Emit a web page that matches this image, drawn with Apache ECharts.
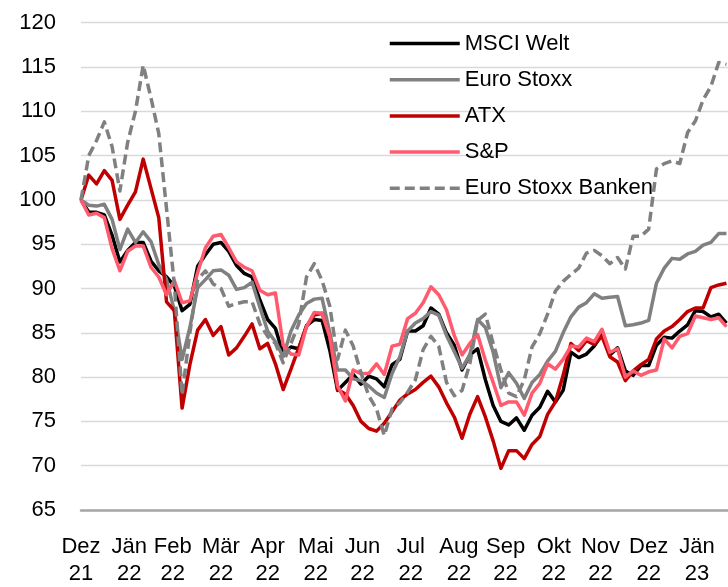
<!DOCTYPE html>
<html>
<head>
<meta charset="utf-8">
<script src="https://cdn.jsdelivr.net/npm/echarts@6/dist/echarts.min.js"></script>
<style>
  html, body { margin: 0; padding: 0; background: #fff; }
  #chart { width: 728px; height: 587px; }
</style>
</head>
<body>
<div id="chart"></div>
<script>
// Observation dates (every five days)
const dates = [
  '2021-12-31','2022-01-05','2022-01-10','2022-01-15','2022-01-20','2022-01-25','2022-01-30',
  '2022-02-04','2022-02-09','2022-02-14','2022-02-19','2022-02-24','2022-03-01','2022-03-06',
  '2022-03-11','2022-03-16','2022-03-21','2022-03-26','2022-03-31','2022-04-05','2022-04-10',
  '2022-04-15','2022-04-20','2022-04-25','2022-04-30','2022-05-05','2022-05-10','2022-05-15',
  '2022-05-20','2022-05-25','2022-05-30','2022-06-04','2022-06-09','2022-06-14','2022-06-19',
  '2022-06-24','2022-06-29','2022-07-04','2022-07-09','2022-07-14','2022-07-19','2022-07-24',
  '2022-07-29','2022-08-03','2022-08-08','2022-08-13','2022-08-18','2022-08-23','2022-08-28',
  '2022-09-02','2022-09-07','2022-09-12','2022-09-17','2022-09-22','2022-09-27','2022-10-02',
  '2022-10-07','2022-10-12','2022-10-17','2022-10-22','2022-10-27','2022-11-01','2022-11-06',
  '2022-11-11','2022-11-16','2022-11-21','2022-11-26','2022-12-01','2022-12-06','2022-12-11',
  '2022-12-16','2022-12-21','2022-12-26','2022-12-31','2023-01-05','2023-01-10','2023-01-15',
  '2023-01-20','2023-01-25','2023-01-30','2023-02-04','2023-02-09','2023-02-14','2023-02-19'
];

// Index levels (31.12.2021 = 100)
const msciWelt = [
  100, 98.6, 98.6, 98.3, 96, 93, 94.3, 95.2, 95.2, 93.1, 92, 91.3, 90.3, 87.5,
  88.2, 92.5, 93.8, 95, 95.2, 94.2, 92.6, 91.7, 91.3, 88.7, 86.5, 85.5, 82.6, 83.4,
  83.2, 85.8, 86.5, 86.4, 83, 78.5, 79.4, 80.3, 79.2, 80.1, 79.8, 78.9, 81.4, 82,
  85.2, 85.2, 85.8, 87.8, 87.1, 85, 83.6, 80.8, 82.5, 83.2, 79.7, 76.8, 75, 74.6,
  75.4, 74, 75.7, 76.6, 78.4, 77.2, 78.5, 82.8, 82.2, 82.6, 83.5, 84.8, 82.5, 83.3,
  80.7, 80.2, 81.3, 81.3, 83.6, 84.5, 84.4, 85.2, 85.9, 87.5, 87.4, 86.8, 87.1, 86.1
];
const euroStoxx = [
  100, 99.4, 99.3, 99.5, 97.8, 94.4, 96.7, 95.2, 96.4, 95.3, 92.7, 91, 87.5, 82,
  85.6, 90.1, 91, 92, 92.1, 91.5, 89.9, 90.1, 90.7, 87.9, 85.2, 84, 82.3, 85.2,
  87, 88.3, 88.8, 88.9, 85, 80.8, 80.8, 79.8, 79.6, 79, 78.2, 77.7, 80.4, 82.3,
  85.2, 86.1, 86.6, 87.4, 87, 84.7, 82.9, 81, 82.5, 86.5, 85.6, 82.8, 78.8, 80.5,
  79.3, 77.6, 79.4, 80.3, 81.8, 82.9, 85, 86.8, 87.9, 88.4, 89.4, 88.9, 89, 89.1,
  85.8, 85.9, 86.1, 86.4, 90.6, 92.3, 93.4, 93.3, 93.9, 94.2, 94.9, 95.2, 96.2, 96.2
];
const atx = [
  100, 102.8, 101.8, 103.3, 102.2, 97.8, 99.4, 100.9, 104.6, 101.3, 98, 88.5, 87.5, 76.5,
  81.4, 85.3, 86.5, 84.7, 85.7, 82.5, 83.3, 84.6, 86, 83.2, 83.8, 81.5, 78.6, 80.9,
  83.3, 85.7, 87, 87.2, 84.5, 78.6, 78.1, 76.8, 75, 74.2, 73.9, 74.8, 76.1, 77.4,
  78.1, 78.6, 79.4, 80.1, 78.9, 77.1, 75.5, 73.1, 75.8, 77.8, 75.5, 72.8, 69.7, 71.7,
  71.7, 70.8, 72.4, 73.3, 75.8, 77.2, 80.2, 83.8, 83, 84.1, 83.7, 84.6, 82.3, 81.7,
  79.6, 80.7, 81.4, 82, 84.3, 85.2, 85.7, 86.5, 87.4, 87.8, 87.8, 90.1, 90.4, 90.6
];
const sp = [
  100, 98.3, 98.5, 98, 94.5, 92, 94.2, 94.8, 94.8, 92.4, 91.3, 89.3, 90.9, 88.4,
  88.6, 91.8, 94.6, 95.9, 96.1, 94.6, 93, 92.4, 92, 89.8, 89.3, 89.5, 83.6, 82.6,
  82.5, 85.7, 87.3, 87.2, 84.6, 79, 77.3, 80.8, 80.4, 80.4, 81.5, 80.3, 83.5, 83.7,
  86.6, 87.2, 88.4, 90.2, 89.3, 87.6, 84.7, 82.5, 83.8, 84.8, 81.9, 79.4, 76.8, 77.2,
  77.2, 75.7, 78.2, 79.3, 81.5, 80.9, 82, 83.5, 83.4, 84.4, 84, 85.4, 82.8, 83.2,
  80, 80.7, 80.2, 80.6, 80.8, 84.3, 83.3, 84.6, 84.9, 86.9, 86.7, 86.5, 86.7, 85.7
];
const euroStoxxBanken = [
  100, 105, 106.7, 108.8, 106, 101, 106.5, 110, 115.2, 111.5, 107.5, 99, 90.5, 78,
  85, 91, 92, 90.5, 90, 88, 88.3, 88.5, 88.5, 86, 84.6, 83.8, 81.6, 83.8,
  86, 91.3, 92.8, 90.9, 88, 82, 85.3, 83.5, 80.5, 77.9, 76.4, 73.4, 76.4, 77.1,
  78.3, 79.7, 83.1, 84.6, 83.5, 79.4, 77.9, 78.5, 81.5, 86.4, 87.1, 83.8, 80.8, 78.2,
  77.8, 79.7, 83.4, 84.9, 87.1, 89.7, 90.8, 91.6, 92.3, 94, 94.3, 93.7, 92.8, 93.5,
  92.2, 95.9, 95.9, 96.7, 103.5, 104.1, 104.4, 104.1, 107.6, 108.9, 111.3, 112.8, 115.5, 115.3
];

// Month-end axis ticks and their labels
const tickDates = [
  '2021-12-31','2022-01-31','2022-02-28','2022-03-31','2022-04-30','2022-05-31','2022-06-30',
  '2022-07-31','2022-08-31','2022-09-30','2022-10-31','2022-11-30','2022-12-31','2023-01-31'
];
const tickLabels = [
  'Dez\n21','Jän\n22','Feb\n22','Mär\n22','Apr\n22','Mai\n22','Jun\n22',
  'Jul\n22','Aug\n22','Sep\n22','Okt\n22','Nov\n22','Dez\n22','Jän\n23'
];
const axisStart = '2021-12-31';
const axisEnd = '2023-02-20';

// Dates as UTC milliseconds, plotted on a numeric axis
const toTime = s => {
  const [y, m, d] = s.split('-').map(Number);
  return Date.UTC(y, m - 1, d);
};
const tickTimes = tickDates.map(toTime);
const pairs = vals => dates.map((d, i) => [toTime(d), vals[i]]);

const FONT = "'Liberation Sans', Arial, sans-serif";
const LINE_WIDTH = 3.5;

const seriesDefs = [
  { name: 'MSCI Welt', data: msciWelt, color: '#000000', dash: null },
  { name: 'Euro Stoxx', data: euroStoxx, color: '#808080', dash: null },
  { name: 'ATX', data: atx, color: '#c00000', dash: null },
  { name: 'S&P', data: sp, color: '#ff5a6e', dash: null },
  { name: 'Euro Stoxx Banken', data: euroStoxxBanken, color: '#808080', dash: [10, 5] }
];

const lineStyleOf = s => {
  const ls = { color: s.color, width: LINE_WIDTH, cap: 'butt', join: 'round' };
  if (s.dash) { ls.type = s.dash; }
  return ls;
};

const chart = echarts.init(document.getElementById('chart'), null, { renderer: 'canvas' });
chart.setOption({
  animation: false,
  backgroundColor: '#ffffff',
  textStyle: { fontFamily: FONT },
  grid: { left: 81, right: 0, top: 22.7, bottom: 71.6, containLabel: false },
  legend: {
    orient: 'vertical',
    left: 388,
    top: 32.5,
    itemGap: 14.2,
    itemWidth: 70,
    itemHeight: 14,
    padding: 0,
    itemStyle: { opacity: 0 },
    textStyle: { fontFamily: FONT, fontSize: 22, color: '#000', lineHeight: 22 },
    data: seriesDefs.map(s => ({ name: s.name, lineStyle: lineStyleOf(s) }))
  },
  xAxis: {
    type: 'value',
    min: toTime(axisStart),
    max: toTime(axisEnd),
    axisLine: { show: true, onZero: false, lineStyle: { color: '#a6a6a6', width: 2.5 } },
    axisTick: { show: false },
    splitLine: { show: false },
    axisLabel: {
      customValues: tickTimes,
      hideOverlap: false,
      showMinLabel: true,
      showMaxLabel: true,
      margin: 23,
      fontFamily: FONT,
      fontSize: 22,
      lineHeight: 27,
      color: '#000',
      formatter: function (value) {
        const idx = tickTimes.indexOf(value);
        return idx >= 0 ? tickLabels[idx] : '';
      }
    }
  },
  yAxis: {
    type: 'value',
    min: 65,
    max: 120,
    interval: 5,
    axisLine: { show: false },
    axisTick: { show: false },
    splitLine: { show: true, lineStyle: { color: '#d9d9d9', width: 1.3 } },
    axisLabel: { margin: 25, fontFamily: FONT, fontSize: 22, color: '#000' }
  },
  series: seriesDefs.map(s => ({
    name: s.name,
    type: 'line',
    data: pairs(s.data),
    symbol: 'none',
    showSymbol: false,
    smooth: false,
    itemStyle: { color: s.color },
    lineStyle: lineStyleOf(s),
    emphasis: { disabled: true }
  }))
});
</script>
</body>
</html>
